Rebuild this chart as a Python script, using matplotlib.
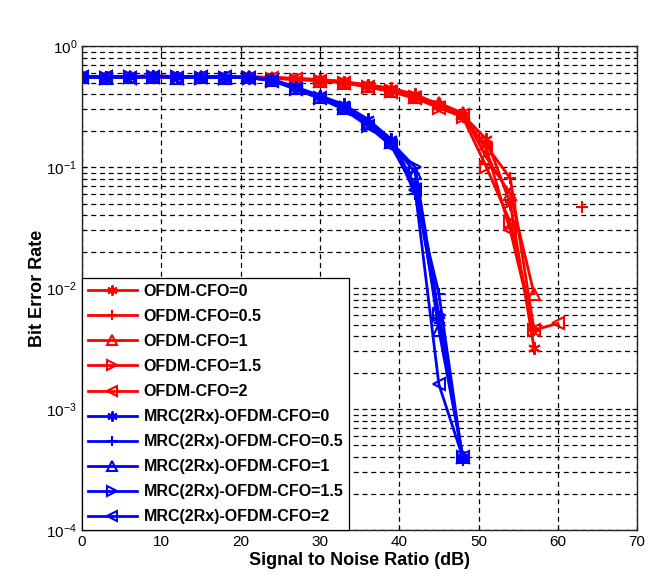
import numpy as np
import matplotlib.pyplot as plt

plt.rcParams['font.family'] = ['Liberation Sans', 'DejaVu Sans']

nan = np.nan
snr = [0, 3, 6, 9, 12, 15, 18, 21, 24, 27, 30, 33, 36, 39, 42, 45, 48, 51, 54, 57, 60, 63]

ofdm_cfo0 = [0.56, 0.56, 0.56, 0.57, 0.56, 0.56, 0.56, 0.56, 0.55, 0.54, 0.53, 0.51, 0.48, 0.45,
             0.40, 0.33, 0.27, 0.17, 0.05, 0.0032, nan, nan]
ofdm_cfo05 = [0.55, 0.56, 0.55, 0.56, 0.56, 0.55, 0.56, 0.55, 0.55, 0.54, 0.53, 0.51, 0.47, 0.44,
              0.39, 0.32, 0.26, 0.15, 0.081, 0.0045, nan, 0.047]
ofdm_cfo1 = [0.56, 0.55, 0.56, 0.56, 0.55, 0.56, 0.55, 0.56, 0.55, 0.53, 0.52, 0.50, 0.47, 0.43,
             0.38, 0.34, 0.28, 0.12, 0.06, 0.009, nan, nan]
ofdm_cfo15 = [0.55, 0.55, 0.56, 0.56, 0.56, 0.55, 0.55, 0.55, 0.54, 0.53, 0.52, 0.50, 0.46, 0.43,
              0.38, 0.31, 0.26, 0.10, 0.035, 0.0045, nan, nan]
ofdm_cfo2 = [0.56, 0.56, 0.55, 0.56, 0.55, 0.56, 0.56, 0.55, 0.55, 0.54, 0.52, 0.50, 0.46, 0.42,
             0.37, 0.31, 0.27, 0.14, 0.03, 0.0045, 0.0051, nan]

mrc_cfo0 = [0.56, 0.56, 0.56, 0.57, 0.56, 0.56, 0.56, 0.55, 0.53, 0.46, 0.39, 0.33, 0.25, 0.17,
            0.07, 0.0055, 0.0004, nan, nan, nan, nan, nan]
mrc_cfo05 = [0.55, 0.56, 0.55, 0.56, 0.56, 0.55, 0.56, 0.55, 0.52, 0.45, 0.38, 0.32, 0.24, 0.17,
             0.06, 0.009, 0.00038, nan, nan, nan, nan, nan]
mrc_cfo1 = [0.56, 0.55, 0.56, 0.56, 0.55, 0.56, 0.55, 0.56, 0.53, 0.45, 0.38, 0.31, 0.23, 0.16,
            0.09, 0.0045, 0.0004, nan, nan, nan, nan, nan]
mrc_cfo15 = [0.55, 0.55, 0.56, 0.56, 0.56, 0.55, 0.55, 0.55, 0.52, 0.44, 0.37, 0.31, 0.22, 0.16,
             0.10, 0.006, 0.0004, nan, nan, nan, nan, nan]
mrc_cfo2 = [0.56, 0.56, 0.55, 0.56, 0.55, 0.56, 0.56, 0.55, 0.52, 0.44, 0.37, 0.30, 0.22, 0.15,
            0.065, 0.0016, 0.0004, nan, nan, nan, nan, nan]

labels = ["OFDM-CFO=0", "OFDM-CFO=0.5", "OFDM-CFO=1", "OFDM-CFO=1.5", "OFDM-CFO=2",
          "MRC(2Rx)-OFDM-CFO=0", "MRC(2Rx)-OFDM-CFO=0.5", "MRC(2Rx)-OFDM-CFO=1",
          "MRC(2Rx)-OFDM-CFO=1.5", "MRC(2Rx)-OFDM-CFO=2"]
series = [ofdm_cfo0, ofdm_cfo05, ofdm_cfo1, ofdm_cfo15, ofdm_cfo2,
          mrc_cfo0, mrc_cfo05, mrc_cfo1, mrc_cfo15, mrc_cfo2]

markers = [(6, 2, 0), "+", "^", ">", "<"] * 2
colors = ["#ff0000"] * 5 + ["#0000ff"] * 5

fig = plt.figure(figsize=(6.63, 5.85), dpi=100)
ax = fig.add_axes([0.1237, 0.094, 0.8373, 0.827])

for y, lab, m, c in zip(series, labels, markers, colors):
    ax.semilogy(snr, y, color=c, linewidth=2, marker=m, markersize=9,
                markerfacecolor="none", markeredgecolor=c, markeredgewidth=1.5,
                label=lab)

ax.set_xlim(0, 70)
ax.set_ylim(1e-4, 1)
ax.set_xticks(range(0, 71, 10))
ax.grid(True, which="major", color="black", linestyle=(0, (4, 3)), linewidth=0.9)
ax.grid(True, which="minor", axis="y", color="black", linestyle=(0, (4, 3)), linewidth=0.9)
ax.tick_params(which="both", direction="in", labelsize=11, top=True, right=True)
for s in ax.spines.values():
    s.set_linewidth(1.0)
    s.set_color("#222222")

ax.set_xlabel("Signal to Noise Ratio (dB)", fontsize=13, fontweight="bold", labelpad=2)
ax.set_ylabel("Bit Error Rate", fontsize=13, fontweight="bold", labelpad=0)

leg = ax.legend(loc="lower left", fontsize=11.5, frameon=True, fancybox=False,
                framealpha=1, edgecolor="black", borderaxespad=0, handlelength=3.1,
                labelspacing=0.63, borderpad=0.35, handletextpad=0.4,
                markerscale=0.8)
leg.get_frame().set_linewidth(0.9)
for t in leg.get_texts():
    t.set_fontweight("bold")

fig.savefig("out.png", dpi=100)
